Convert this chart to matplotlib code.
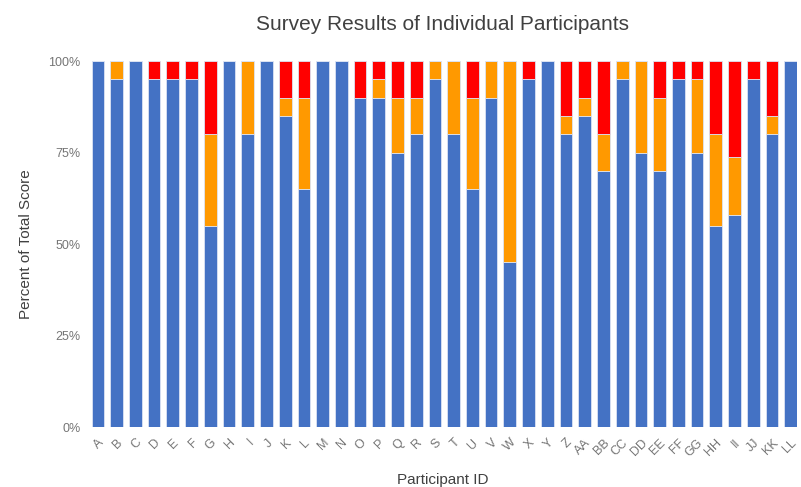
import matplotlib
matplotlib.use("Agg")
import matplotlib.pyplot as plt
import numpy as np
from matplotlib.ticker import PercentFormatter

participants = ["A", "B", "C", "D", "E", "F", "G", "H", "I", "J", "K", "L", "M",
                "N", "O", "P", "Q", "R", "S", "T", "U", "V", "W", "X", "Y", "Z",
                "AA", "BB", "CC", "DD", "EE", "FF", "GG", "HH", "II", "JJ", "KK", "LL"]

blue = [100, 95, 100, 95, 95, 95, 55, 100, 80, 100, 85, 65, 100,
        100, 90, 90, 75, 80, 95, 80, 65, 90, 45, 95, 100, 80,
        85, 70, 95, 75, 70, 95, 75, 55, 57.9, 95, 80, 100]
orange = [0, 5, 0, 0, 0, 0, 25, 0, 20, 0, 5, 25, 0,
          0, 0, 5, 15, 10, 5, 20, 25, 10, 55, 0, 0, 5,
          5, 10, 5, 25, 20, 0, 20, 25, 15.8, 0, 5, 0]
red = [0, 0, 0, 5, 5, 5, 20, 0, 0, 0, 10, 10, 0,
       0, 10, 5, 10, 10, 0, 0, 10, 0, 0, 5, 0, 15,
       10, 20, 0, 0, 10, 5, 5, 20, 26.3, 5, 15, 0]

plt.rcParams["font.family"] = ["Liberation Sans", "DejaVu Sans"]

fig = plt.figure(figsize=(8.01, 4.87), dpi=100)
ax = fig.add_axes([0.1106, 0.1232, 0.884, 0.7515])

x = np.arange(len(participants))
b = np.array(blue)
o = np.array(orange)
r = np.array(red)
w = 0.68
kw = dict(width=w, edgecolor="#dbe3f3", linewidth=0.6)
ax.bar(x, b, color="#4472C4", **kw)
ax.bar(x, o, bottom=b, color="#FF9900", **kw)
ax.bar(x, r, bottom=b + o, color="#FF0000", **kw)

ax.set_xlim(-0.5, len(participants) - 0.68)
ax.set_ylim(0, 100)
ax.set_yticks([0, 25, 50, 75, 100])
ax.yaxis.set_major_formatter(PercentFormatter(decimals=0))
ax.set_xticks(x)
ax.set_xticklabels(participants, rotation=45, ha="right", rotation_mode="anchor")
ax.tick_params(axis="both", length=0, labelsize=9, colors="#757575")
ax.tick_params(axis="y", pad=6)
ax.tick_params(axis="x", pad=7)
for s in ax.spines.values():
    s.set_visible(False)

ax.set_title("Survey Results of Individual Participants", fontsize=15,
             color="#404040", pad=22)
ax.set_ylabel("Percent of Total Score", fontsize=11, color="#404040", labelpad=11)
ax.set_xlabel("Participant ID", fontsize=11, color="#404040", va="center")
ax.xaxis.set_label_coords(0.5, -0.145)

fig.savefig("out.png", dpi=100)
